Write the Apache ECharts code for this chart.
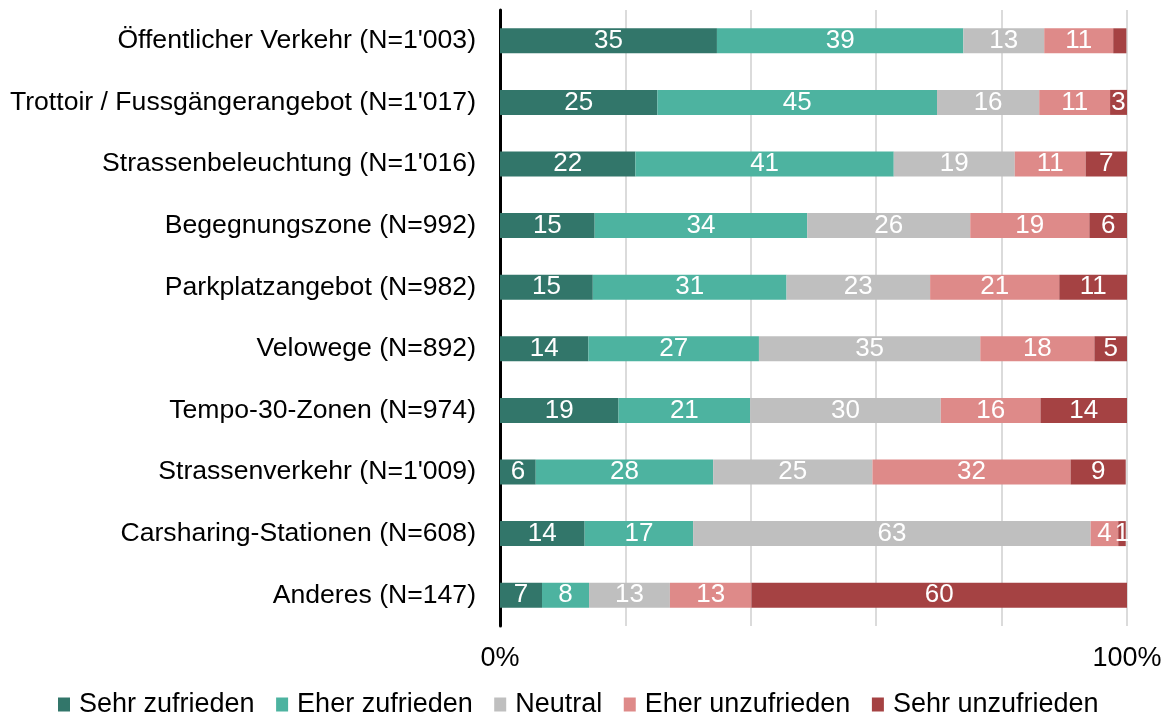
<!DOCTYPE html>
<html lang="de">
<head>
    <meta charset="UTF-8">
    <title>Zufriedenheit Verkehr</title>
    <script src="https://cdn.jsdelivr.net/npm/echarts@6/dist/echarts.min.js"></script>
    <style>
        html, body { margin: 0; padding: 0; background: #fff; }
        #main { width: 1168px; height: 713px; }
    </style>
</head>
<body>
<div id="main"></div>
<script>
    // Kategorien (von oben nach unten)
    var categories = [
        "Öffentlicher Verkehr (N=1'003)",
        "Trottoir / Fussgängerangebot (N=1'017)",
        "Strassenbeleuchtung (N=1'016)",
        "Begegnungszone (N=992)",
        "Parkplatzangebot (N=982)",
        "Velowege (N=892)",
        "Tempo-30-Zonen (N=974)",
        "Strassenverkehr (N=1'009)",
        "Carsharing-Stationen (N=608)",
        "Anderes (N=147)"
    ];
    var seriesNames = ['Sehr zufrieden', 'Eher zufrieden', 'Neutral', 'Eher unzufrieden', 'Sehr unzufrieden'];

    // Anteile in %
    var sehrZufrieden   = [34.6, 25.1, 21.6, 15.1, 14.8, 14.1, 18.9, 5.7, 13.5, 6.7];
    var eherZufrieden   = [39.3, 44.6, 41.2, 33.9, 30.9, 27.2, 21.0, 28.3, 17.3, 7.5];
    var neutral         = [12.9, 16.3, 19.3, 26.0, 22.9, 35.3, 30.4, 25.4, 63.4, 12.9];
    var eherUnzufrieden = [11.0, 11.3, 11.3, 19.0, 20.6, 18.2, 15.9, 31.6, 4.4, 13.0];
    var sehrUnzufrieden = [2.1, 2.7, 6.6, 6.0, 10.8, 5.2, 13.8, 8.8, 1.2, 59.9];

    var colors = ['#32766a', '#4db3a0', '#bfbfbf', '#de8a89', '#a54243'];
    var values = [sehrZufrieden, eherZufrieden, neutral, eherUnzufrieden, sehrUnzufrieden];

    var font = 'Liberation Sans, Arial, sans-serif';

    var series = seriesNames.map(function (name, i) {
        return {
            name: name,
            type: 'bar',
            stack: 'total',
            barWidth: 25,
            itemStyle: { color: colors[i] },
            label: {
                show: true,
                color: '#fff',
                fontFamily: font,
                fontSize: 26,
                formatter: function (p) {
                    // im Original ohne Beschriftung
                    return (p.value > 1.5 && p.value < 2.5) ? '' : Math.round(p.value);
                }
            },
            data: values[i]
        };
    });

    var myChart = echarts.init(document.getElementById('main'));
    var option = {
        animation: false,
        grid: { left: 500, right: 41, top: 10, bottom: 87 },
        legend: {
            top: 686,
            left: 53,
            itemWidth: 12,
            itemHeight: 14,
            itemGap: 21.5,
            icon: 'rect',
            textStyle: { fontFamily: font, fontSize: 27, color: '#000', padding: [0, 0, 0, 4] },
            data: seriesNames
        },
        xAxis: {
            type: 'value',
            min: 0,
            max: 100,
            interval: 20,
            axisLine: { show: false },
            axisTick: { show: false },
            splitLine: { lineStyle: { color: '#cfcfcf', width: 1.5 } },
            axisLabel: {
                fontFamily: font,
                fontSize: 27,
                color: '#000',
                margin: 19,
                formatter: function (v) {
                    return (v === 0 || v === 100) ? v + '%' : '';
                }
            }
        },
        yAxis: {
            type: 'category',
            inverse: true,
            data: categories,
            axisLine: { lineStyle: { color: '#000', width: 3 } },
            axisTick: { show: false },
            axisLabel: {
                fontFamily: font,
                fontSize: 26.6,
                color: '#000',
                margin: 24
            }
        },
        series: series
    };
    myChart.setOption(option);
</script>
</body>
</html>
